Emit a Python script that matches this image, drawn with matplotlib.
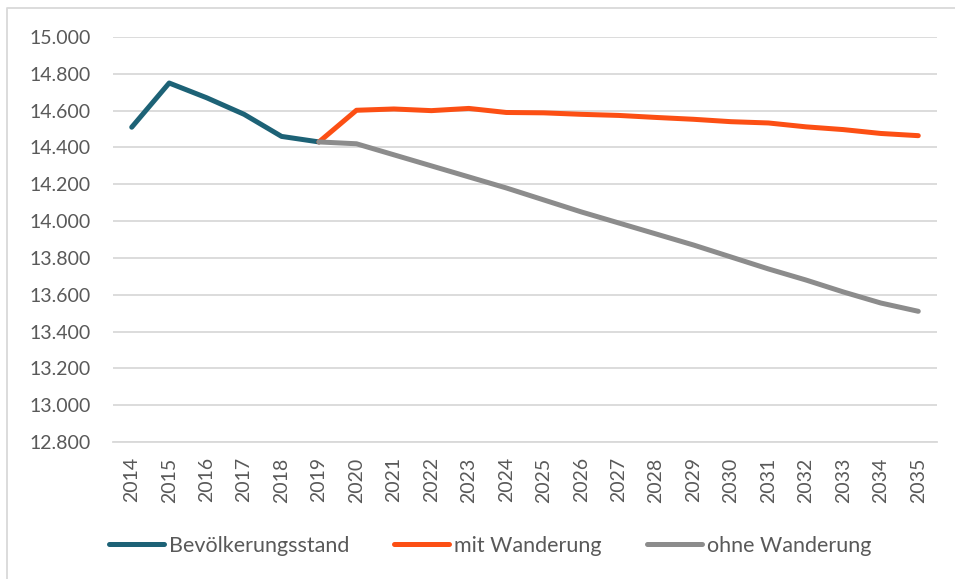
"""Bevölkerungsentwicklung mit und ohne Wanderung, 2014-2035."""

import numpy as np
import matplotlib.pyplot as plt
from matplotlib.lines import Line2D
from matplotlib.ticker import FuncFormatter, MultipleLocator

plt.rcParams['font.family'] = ['Lato', 'DejaVu Sans']

years = [str(y) for y in range(2014, 2036)]

# Bestand 2014-2019
bestand = [14510, 14750, 14670, 14580, 14460, 14430]
# Prognosen 2019-2035
mit_wanderung = [14430, 14602, 14609, 14600, 14612, 14590, 14588, 14580, 14574,
                 14563, 14553, 14540, 14533, 14512, 14497, 14476, 14464]
ohne_wanderung = [14430, 14420, 14360, 14300, 14240, 14180, 14115, 14050, 13990,
                  13930, 13870, 13805, 13740, 13680, 13615, 13555, 13510]

labels = ['Bevölkerungsstand', 'mit Wanderung', 'ohne Wanderung']
colors = ['#1d6276', '#fc4f14', '#8c8c8c']
text_color = '#595959'
grid_color = '#d9d9d9'

fig = plt.figure(figsize=(9.55, 5.79), dpi=100)
ax = fig.add_axes([113 / 955, 1 - 442 / 579, (937 - 113) / 955, (442 - 37) / 579])

line_kw = dict(linewidth=3.6, solid_capstyle='round', solid_joinstyle='round')
ax.plot(years[:6], bestand, color=colors[0], label=labels[0], **line_kw)
ax.plot(years[5:], mit_wanderung, color=colors[1], label=labels[1], **line_kw)
ax.plot(years[5:], ohne_wanderung, color=colors[2], label=labels[2], **line_kw)

ax.set_xlim(-0.5, len(years) - 0.5)
ax.set_ylim(12800, 15000)
ax.yaxis.set_major_locator(MultipleLocator(200))
ax.yaxis.set_major_formatter(FuncFormatter(lambda v, p: f'{v:,.0f}'.replace(',', '.')))

ax.grid(axis='y', color=grid_color, linewidth=1.3)
ax.set_axisbelow(True)
for side in ['top', 'right', 'left']:
    ax.spines[side].set_visible(False)
ax.spines['bottom'].set_color(grid_color)
ax.spines['bottom'].set_linewidth(1.3)

ax.tick_params(axis='y', length=0, pad=16, labelsize=14, labelcolor=text_color)
ax.tick_params(axis='x', length=0, pad=11, labelsize=14, labelcolor=text_color,
               labelrotation=90)

fig.legend(loc='center', bbox_to_anchor=(490 / 955, 1 - 546 / 579), ncol=3,
           frameon=False, fontsize=15.5, labelcolor=text_color,
           handlelength=2.55, handletextpad=0.23, columnspacing=2.1)

# Rahmen: nur links und oben sichtbar
fig.lines.append(Line2D([7 / 955, 7 / 955, 1], [0, 1 - 8 / 579, 1 - 8 / 579],
                        transform=fig.transFigure, color=grid_color, linewidth=1.3))

fig.savefig('out.png', dpi=100)
